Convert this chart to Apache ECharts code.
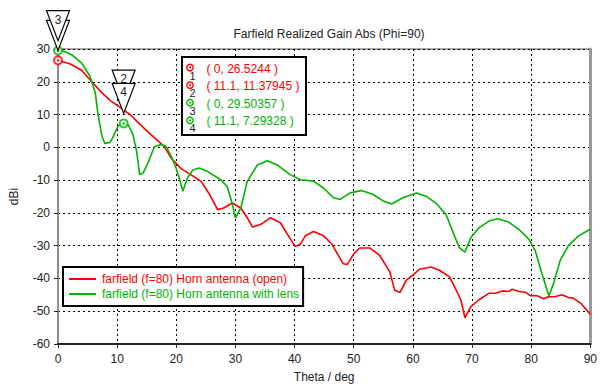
<!DOCTYPE html>
<html>
<head>
<meta charset="utf-8">
<script src="https://cdn.jsdelivr.net/npm/echarts@6/dist/echarts.min.js"></script>
<style>html,body{margin:0;padding:0;background:#fff;}#chart{width:600px;height:388px;}</style>
</head>
<body>
<div id="chart"></div>
<script>
// ---- data ----
const thetaOpen = [0, 2, 4, 5.7, 7.4, 9, 10.2, 11.1, 12.5, 13.5, 15.8, 18, 19.1, 20.8, 22.5, 24.2, 25.5, 27, 28, 29.5, 30.9, 32, 32.9, 34.3, 35.9, 37.6, 39.3, 40.1, 41, 41.8, 43.2, 44.9, 46.3, 48.2, 48.9, 50, 51, 52.7, 54.4, 56.1, 56.9, 57.8, 58.9, 60, 61.1, 63.1, 64.5, 66.2, 67.3, 68.1, 68.8, 69.8, 71.2, 72.9, 74, 75.1, 76.2, 76.8, 77.9, 79, 79.9, 81, 82.1, 82.9, 84, 85.2, 86.3, 87.1, 88.4, 90];
const gainOpen = [26.5, 25.5, 23.5, 20, 16.7, 14, 12.6, 11.4, 9.5, 7.6, 3.7, 0.2, -3.2, -6.5, -8.4, -10.4, -14, -19, -18.5, -17, -18.5, -21.5, -24.3, -23.5, -21.5, -23, -28, -30.3, -29.5, -27, -25.7, -27, -29.5, -35.5, -35.7, -32.5, -30.7, -30.7, -33, -38, -43.5, -44.3, -40.5, -39, -37.2, -36.5, -37.5, -39.5, -43.5, -46.5, -52, -48.6, -46.5, -44.5, -44.5, -43.8, -44, -43.3, -44, -44.2, -45.3, -45.3, -46.2, -45.6, -45.6, -45, -45.8, -46, -47.6, -51];
const thetaLens = [0, 1, 2.35, 4, 5.4, 6.3, 6.8, 7.4, 7.9, 8.8, 9.3, 10.2, 11.1, 11.9, 12.7, 13.3, 13.8, 14.4, 15.2, 16.3, 17.5, 18.3, 19.1, 20, 20.5, 21.1, 21.9, 22.8, 23.9, 25.3, 27.5, 28.6, 29.5, 30, 30.9, 32, 33.7, 35.4, 37.1, 39.3, 41, 43.2, 44.9, 46.6, 47.7, 49.4, 51.3, 53.3, 55, 56.4, 58.3, 60.6, 62.2, 63.9, 65.6, 66.7, 67.8, 68.8, 69.8, 71.2, 72.9, 74.3, 76.2, 77.9, 79.6, 80.7, 81.8, 83, 83.8, 84.9, 86.3, 88, 90];
const gainLens = [29.5, 29.3, 28.2, 25.7, 21.7, 16.7, 9.6, 3.7, 1.2, 1.5, 3.1, 6.6, 7.3, 6.8, 3.7, -1.3, -8.3, -7.8, -4.8, 0.2, 0.9, 0.2, -2.5, -6.5, -9.4, -13.4, -9.3, -6.9, -6.3, -7.4, -9.9, -11.9, -17.5, -21.6, -18.5, -10.4, -5.4, -4.1, -5.4, -8.4, -9.9, -10.3, -12.4, -15.4, -15.9, -13.9, -13.2, -14.4, -16.4, -17.3, -15.4, -13.9, -14.9, -17, -20.5, -25.5, -30.5, -32, -27.5, -24.5, -22.5, -21.8, -22.8, -25, -28, -31.6, -38.5, -45.3, -41.5, -34.5, -30, -27, -25];
const seriesNames = ['farfield (f=80) Horn antenna (open)', 'farfield (f=80) Horn antenna with lens'];
const markerIds = ['1', '2', '3', '4'];
const markerTheta = [0, 11.1, 0, 11.1];
const markerGain = [26.5244, 11.37945, 29.50357, 7.29328];
const markerCurve = [0, 0, 1, 1];
const markerShown = [true, false, true, true];
const titleText = 'Farfield Realized Gain Abs (Phi=90)';
const xName = 'Theta / deg';
const yName = 'dBi';
const xMin = 0, xMax = 90, xStep = 10;
const yMin = -60, yMax = 30, yStep = 10;

// ---- styles ----
const colors = ['#ff0000', '#00b400'];
const FONT = 'Liberation Sans, Arial, sans-serif';

const chart = echarts.init(document.getElementById('chart'), null, {renderer: 'svg'});

function pairs(xs, ys) { return xs.map((x, i) => [x, ys[i]]); }
const mk = (c) => markerTheta.map((t, i) => (markerCurve[i] === c && markerShown[i]) ? [t, markerGain[i]] : null).filter(Boolean);

const grid = {left: 56, right: 8, top: 49, bottom: 40, show: true, borderColor: '#555', borderWidth: 1, backgroundColor: '#fff'};
const split = {show: true, lineStyle: {color: '#000', type: [2, 3], width: 1}};

chart.setOption({
  animation: false,
  backgroundColor: '#fff',
  textStyle: {fontFamily: FONT},
  title: {text: titleText, left: 324, top: 23, textAlign: 'center',
    textStyle: {fontSize: 12, fontWeight: 'normal', color: '#222', fontFamily: FONT}},
  grid: grid,
  xAxis: {type: 'value', min: xMin, max: xMax, interval: xStep,
    name: xName, nameLocation: 'middle', nameGap: 27,
    nameTextStyle: {fontSize: 12, color: '#222', fontFamily: FONT},
    axisLine: {show: true, onZero: false, lineStyle: {color: '#222', width: 2}},
    axisTick: {show: true, length: 4, lineStyle: {color: '#222'}},
    axisLabel: {fontSize: 12, color: '#222', margin: 9, fontFamily: FONT},
    splitLine: split},
  yAxis: [{type: 'value', min: yMin, max: yMax, interval: yStep,
    name: yName, nameLocation: 'middle', nameGap: 38,
    nameTextStyle: {fontSize: 12, color: '#222', fontFamily: FONT},
    axisLine: {show: true, onZero: false, lineStyle: {color: '#8c8c8c', width: 2}},
    axisTick: {show: true, length: 4, lineStyle: {color: '#222'}},
    axisLabel: {fontSize: 12, color: '#222', margin: 8, fontFamily: FONT},
    splitLine: split},
   {type: 'value', min: yMin, max: yMax, interval: yStep, position: 'right',
    axisLine: {show: true, onZero: false, lineStyle: {color: '#999', width: 3}},
    axisTick: {show: false}, axisLabel: {show: false}, splitLine: {show: false}}],
  legend: {
    left: 63, top: 267, orient: 'vertical',
    backgroundColor: '#fff', borderColor: '#000', borderWidth: 2, borderRadius: 0,
    padding: [6, 4, 6, 6], itemGap: 3, itemWidth: 27, itemHeight: 2, icon: 'rect',
    textStyle: {fontSize: 12, fontFamily: FONT, padding: [0, 0, 0, 1]},
    data: seriesNames.map((n, i) => ({name: n, textStyle: {color: colors[i]}}))
  },
  series: [
    {name: seriesNames[0], type: 'line', data: pairs(thetaOpen, gainOpen), showSymbol: false, symbol: 'none',
     lineStyle: {color: colors[0], width: 1.6}, itemStyle: {color: colors[0]}, z: 3},
    {name: seriesNames[1], type: 'line', data: pairs(thetaLens, gainLens), showSymbol: false, symbol: 'none',
     lineStyle: {color: colors[1], width: 1.6}, itemStyle: {color: colors[1]}, z: 4},
    {type: 'scatter', data: mk(0), symbol: 'emptyCircle', symbolSize: 8, itemStyle: {color: colors[0], borderWidth: 1.5}, z: 6},
    {type: 'scatter', data: mk(1), symbol: 'emptyCircle', symbolSize: 8, itemStyle: {color: colors[1], borderWidth: 1.5}, z: 6},
    {type: 'scatter', data: mk(0), symbol: 'circle', symbolSize: 2.5, itemStyle: {color: colors[0]}, z: 7},
    {type: 'scatter', data: mk(1), symbol: 'circle', symbolSize: 2.5, itemStyle: {color: colors[1]}, z: 7}
  ]
});

// ---- annotations: marker triangles and marker info box ----
const g = [];
const tri = markerTheta.map((t, i) => {
  const p = chart.convertToPixel({gridIndex: 0}, [t, markerGain[i]]);
  const tipY = p[1] - 10;
  return {x: p[0], tipY: tipY, topY: tipY - 30};
});
tri.forEach((tr, i) => {
  const hw = 11.5;
  g.push({type: 'polygon', z: 100 + i,
    shape: {points: [[tr.x - hw, tr.topY], [tr.x + hw, tr.topY], [tr.x, tr.tipY]]},
    style: {fill: '#fff', stroke: '#000', lineWidth: 1.2}});
  const ly = tr.topY + 9;
  // a label is hidden when a later triangle at the same position covers it
  const covered = tri.some((o, j) => j > i && Math.abs(o.x - tr.x) < 1 && o.topY < ly - 4 && o.tipY > ly);
  if (!covered) {
    g.push({type: 'text', z: 100 + i, x: tr.x, y: ly,
      style: {text: markerIds[i], fill: '#222', font: '12px ' + FONT, align: 'center', verticalAlign: 'middle'}});
  }
});
const bx = 182, by = 57, bw = 124, bh = 78;
g.push({type: 'rect', z: 90, shape: {x: bx, y: by, width: bw, height: bh},
  style: {fill: '#fff', stroke: '#000', lineWidth: 2}});
markerTheta.forEach((t, i) => {
  const y = by + 11.5 + i * 17.6;
  const c = colors[markerCurve[i]];
  g.push({type: 'circle', z: 91, shape: {cx: bx + 8, cy: y - 1, r: 3.2}, style: {fill: '#fff', stroke: c, lineWidth: 1.4}});
  g.push({type: 'circle', z: 92, shape: {cx: bx + 8, cy: y - 1, r: 1}, style: {fill: c}});
  g.push({type: 'text', z: 92, x: bx + 10.5, y: y + 7,
    style: {text: markerIds[i], fill: '#222', font: '11px ' + FONT, align: 'center', verticalAlign: 'middle'}});
  g.push({type: 'text', z: 92, x: bx + 24.5, y: y,
    style: {text: '( ' + t + ', ' + markerGain[i] + ' )', fill: c, font: '12px ' + FONT, align: 'left', verticalAlign: 'middle'}});
});
chart.setOption({graphic: g});
</script>
</body>
</html>
